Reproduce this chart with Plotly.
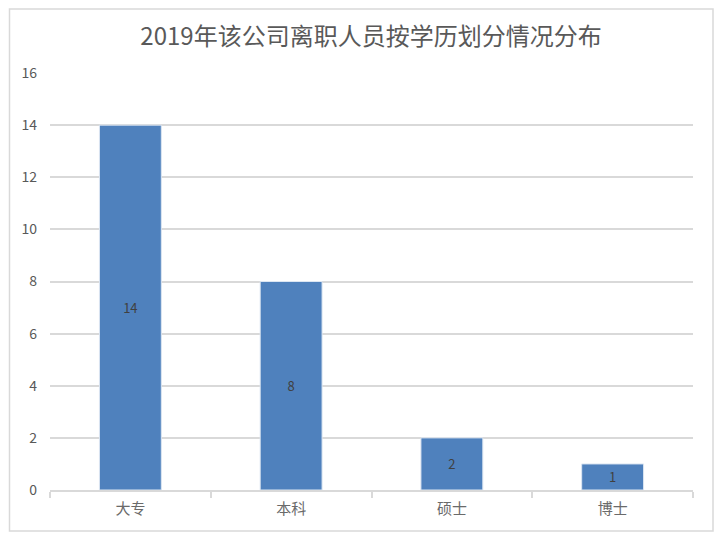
import plotly.graph_objects as go

# Data
categories = ["大专", "本科", "硕士", "博士"]
counts = [14, 8, 2, 1]
y_ticks = [0, 2, 4, 6, 8, 10, 12, 14, 16]

FONT = "Liberation Sans Narrow, Noto Sans CJK SC"
CJK_FONT = "Noto Sans CJK SC"
BAR_COLOR = "#4F81BD"
TEXT_COLOR = "#595959"
GRID_COLOR = "#D9D9D9"

fig = go.Figure(go.Bar(
    x=categories,
    y=counts,
    marker=dict(color=BAR_COLOR, line=dict(color="#DCE6F2", width=1)),
    text=counts,
    textposition="inside",
    insidetextanchor="middle",
    textfont=dict(size=13, color="#404040", family=FONT),
    hoverinfo="x+y",
))

# the page body adds an 8px offset, so work in page pixels minus 8
OFF = 8
W, H = 725 - OFF, 538 - OFF
L, T = 50 - OFF, 73 - OFF
R, B = W - (693 - OFF), H - (490 - OFF)
pw, ph = W - L - R, H - T - B


def px_x(v):
    return (v - OFF - L) / pw


def px_y(v):
    return (H - B - (v - OFF)) / ph


fig.add_shape(
    type="rect", xref="paper", yref="paper",
    x0=px_x(9.5), x1=px_x(713), y0=px_y(531), y1=px_y(9),
    line=dict(color=GRID_COLOR, width=1.5),
    layer="below",
)

fig.update_layout(
    title=dict(
        text="2019年该公司离职人员按学历划分情况分布",
        x=(371 - OFF) / W, xanchor="center",
        y=1 - (37 - OFF) / H, yanchor="middle",
        font=dict(family=FONT, size=24, color=TEXT_COLOR),
    ),
    width=W, height=H,
    margin=dict(l=L, r=R, t=T, b=B),
    paper_bgcolor="white",
    plot_bgcolor="white",
    bargap=0.615,
    showlegend=False,
    font=dict(family=FONT, color=TEXT_COLOR),
    xaxis=dict(
        showline=True, linecolor=GRID_COLOR, linewidth=1.5,
        ticks="outside", tickson="boundaries", tickcolor=GRID_COLOR,
        ticklen=6, tickwidth=1.5, showgrid=False,
        tickfont=dict(size=15, color="#6A6A6A", family=CJK_FONT),
        ticklabelstandoff=4,
    ),
    yaxis=dict(
        range=[0, 16], tickvals=y_ticks,
        showgrid=True, gridcolor=GRID_COLOR, gridwidth=1.5,
        zeroline=False, showline=False,
        tickfont=dict(size=14, color=TEXT_COLOR, family=FONT),
        ticklabelstandoff=12,
    ),
)

fig.write_html("out.html")
